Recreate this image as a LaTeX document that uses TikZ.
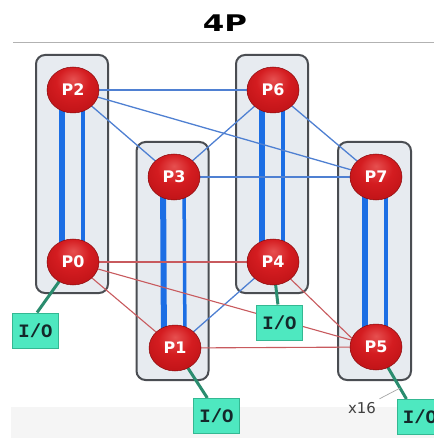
\documentclass[tikz,border=0pt]{standalone}
\usepackage{fontspec}
\setmainfont{DejaVu Sans}
\newfontfamily\monob{Liberation Mono}
\usetikzlibrary{shapes.geometric,calc}
\pgfdeclarelayer{bg}
\pgfdeclarelayer{links}
\pgfsetlayers{bg,links,main}
\definecolor{boxfill}{HTML}{E7EBF0}
\definecolor{boxedge}{HTML}{4A4D52}
\definecolor{ballhi}{HTML}{E65050}
\definecolor{ballmid}{HTML}{D41C20}
\definecolor{ballred}{HTML}{B81014}
\definecolor{balldark}{HTML}{8C0A0C}
\definecolor{ballrim}{HTML}{8A0A0C}
\definecolor{linkblue}{HTML}{4F80D2}
\definecolor{linkred}{HTML}{C85A5E}
\definecolor{busblue}{HTML}{1C6EE4}
\definecolor{iofill}{HTML}{4EE8C0}
\definecolor{ioedge}{HTML}{34B892}
\definecolor{iotext}{HTML}{14282A}
\definecolor{iogreen}{HTML}{2A8C6E}
\pgfdeclareradialshading{redball}{\pgfpoint{0bp}{12bp}}{%
  color(0bp)=(ballhi); color(16bp)=(ballmid); color(38bp)=(ballred);
  color(50bp)=(balldark); color(62bp)=(balldark)}
\tikzset{
 grp/.style={draw=boxedge, line width=2bp, fill=boxfill, rounded corners=9bp,
   minimum width=72bp, minimum height=238bp, inner sep=0pt},
 cpu/.style={ellipse, minimum width=52bp, minimum height=46bp, inner sep=0pt,
   shading=redball, draw=ballrim, line width=0.5bp, text=white,
   font=\bfseries\fontsize{16}{16}\selectfont},
 iobox/.style={rectangle, fill=iofill, draw=ioedge, line width=1bp,
   minimum width=46bp, minimum height=35bp, inner sep=0pt, text=iotext,
   font=\monob\bfseries\fontsize{19}{19}\selectfont},
 qpi/.style={draw=linkblue, line width=1.3bp},
 rlink/.style={draw=linkred, line width=1.1bp},
 busthick/.style={draw=busblue, line width=6bp},
 busthin/.style={draw=busblue, line width=3.5bp},
 ioline/.style={draw=iogreen, line width=3bp},
}
\begin{document}
\begin{tikzpicture}[x=1bp,y=-1bp]
\useasboundingbox (0,0) rectangle (434,438);
\begin{pgfonlayer}{bg}
\fill[white] (0,0) rectangle (434,438);
\fill[gray!8] (11,407) rectangle (434,438);
\node[grp] (boxA) at (72,174) {};
\node[grp] (boxB) at (172.5,261) {};
\node[grp] (boxC) at (272,174) {};
\node[grp, minimum width=73bp] (boxD) at (374.5,261) {};
\end{pgfonlayer}

% title
\node[font=\bfseries\fontsize{23}{23}\selectfont, inner sep=0pt] (title) at (225,23.5) {\scalebox{1.35}[1]{4P}};
\coordinate (ruleL) at (13,43);
\coordinate (ruleR) at (434,43);
\draw[gray!60, line width=1bp] (ruleL) -- (ruleR);

% processors
\node[cpu] (P2) at (73,90) {P2};
\node[cpu] (P0) at (73,262) {P0};
\node[cpu] (P3) at (174,177) {P3};
\node[cpu] (P1) at (175,348) {P1};
\node[cpu] (P6) at (273,90) {P6};
\node[cpu] (P4) at (273,262) {P4};
\node[cpu] (P7) at (376,177) {P7};
\node[cpu] (P5) at (376,347) {P5};

% I/O
\node[iobox] (io0) at (35.5,330.5) {I/O};
\node[iobox] (io1) at (216.5,416) {I/O};
\node[iobox] (io4) at (279.5,322.5) {I/O};
\node[iobox] (io5) at (420,417) {I/O};

\node[font=\fontsize{15}{15}\selectfont, text=black!75] (mult) at (362,408) {x16};

\begin{pgfonlayer}{links}
% local buses
\foreach \a/\b in {P2/P0,P3/P1,P6/P4,P7/P5}{
  \draw[busthick] ([xshift=-11bp]\a.center) -- ([xshift=-11bp]\b.center);
  \draw[busthin] ([xshift=10bp]\a.center) -- ([xshift=10bp]\b.center);
}
% blue links
\draw[qpi] (P2.center) -- (P6.center);
\draw[qpi] (P2.center) -- (P7.center);
\draw[qpi] (P2.center) -- (P3.center);
\draw[qpi] (P3.center) -- (P6.center);
\draw[qpi] (P3.center) -- (P7.center);
\draw[qpi] (P6.center) -- (P7.center);
\draw[qpi] (P1.center) -- (P4.center);
% red links
\draw[rlink] (P0.center) -- (P4.center);
\draw[rlink] (P0.center) -- (P5.center);
\draw[rlink] (P0.center) -- (P1.center);
\draw[rlink] (P1.center) -- (P5.center);
\draw[rlink] (P4.center) -- (P5.160);
% I/O connectors
\draw[ioline] (P0.center) -- (io0.85);
\draw[ioline] (P1.center) -- (io1.117);
\draw[ioline] (P4.center) -- (io4.95);
\draw[ioline] (P5.center) -- coordinate[pos=0.79] (g5) (io5.127);
\draw[gray!70, line width=0.7bp] (mult.north east) -- (g5);
\end{pgfonlayer}
\end{tikzpicture}
\end{document}
